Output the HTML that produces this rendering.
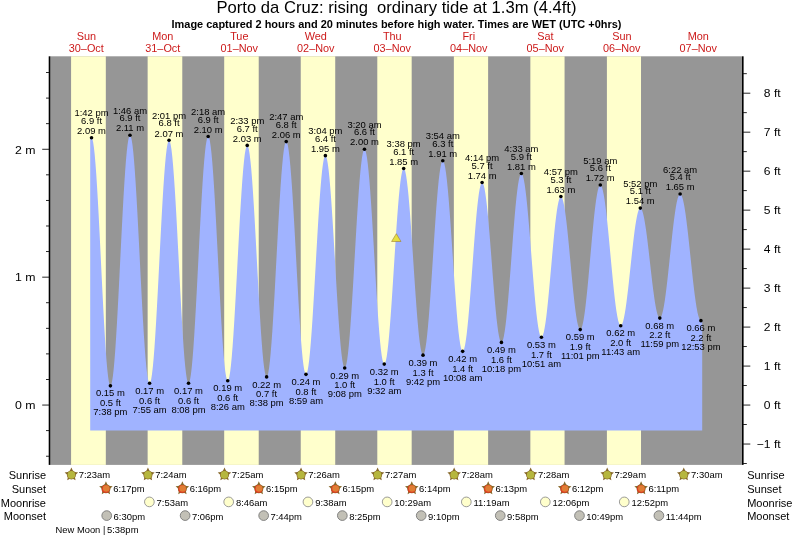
<!DOCTYPE html>
<html><head><meta charset="utf-8"><title>Porto da Cruz tide chart</title>
<style>html,body{margin:0;padding:0;background:#fff}svg{display:block}text{font-family:"Liberation Sans",Arial,Helvetica,sans-serif}</style>
</head><body>
<svg width="793" height="538" viewBox="0 0 793 538">
<rect width="793" height="538" fill="#fff"/>
<rect x="50.4" y="56.3" width="691.6" height="408.59999999999997" fill="#969696"/>
<rect x="71.08" y="56.3" width="34.74" height="408.59999999999997" fill="#ffffcc"/>
<rect x="147.64" y="56.3" width="34.64" height="408.59999999999997" fill="#ffffcc"/>
<rect x="224.19" y="56.3" width="34.53" height="408.59999999999997" fill="#ffffcc"/>
<rect x="300.74" y="56.3" width="34.48" height="408.59999999999997" fill="#ffffcc"/>
<rect x="377.30" y="56.3" width="34.37" height="408.59999999999997" fill="#ffffcc"/>
<rect x="453.85" y="56.3" width="34.27" height="408.59999999999997" fill="#ffffcc"/>
<rect x="530.35" y="56.3" width="34.21" height="408.59999999999997" fill="#ffffcc"/>
<rect x="606.90" y="56.3" width="34.11" height="408.59999999999997" fill="#ffffcc"/>
<path d="M90.2,430.4 L90.2,137.74 L91.52,137.74 L92.31,138.80 L93.09,141.97 L93.88,147.18 L94.67,154.36 L95.46,163.38 L96.25,174.08 L97.03,186.28 L97.82,199.77 L98.61,214.33 L99.40,229.69 L100.19,245.61 L100.97,261.80 L101.76,278.00 L102.55,293.91 L103.34,309.28 L104.13,323.83 L104.92,337.33 L105.70,349.53 L106.49,360.23 L107.28,369.24 L108.07,376.42 L108.86,381.64 L109.64,384.80 L110.43,385.87 L110.43,385.87 L111.25,384.79 L112.06,381.59 L112.87,376.32 L113.69,369.07 L114.50,359.96 L115.32,349.15 L116.13,336.83 L116.95,323.19 L117.76,308.49 L118.58,292.96 L119.39,276.88 L120.21,260.52 L121.02,244.16 L121.84,228.08 L122.65,212.56 L123.46,197.85 L124.28,184.22 L125.09,171.89 L125.91,161.08 L126.72,151.97 L127.54,144.72 L128.35,139.45 L129.17,136.25 L129.98,135.18 L129.98,135.18 L130.80,136.24 L131.61,139.41 L132.43,144.62 L133.25,151.80 L134.07,160.82 L134.88,171.52 L135.70,183.72 L136.52,197.21 L137.33,211.77 L138.15,227.13 L138.97,243.05 L139.78,259.24 L140.60,275.44 L141.42,291.35 L142.23,306.72 L143.05,321.28 L143.87,334.77 L144.68,346.97 L145.50,357.67 L146.32,366.69 L147.13,373.86 L147.95,379.08 L148.77,382.25 L149.58,383.31 L149.58,383.31 L150.39,382.27 L151.20,379.17 L152.01,374.06 L152.83,367.03 L153.64,358.20 L154.45,347.72 L155.26,335.77 L156.07,322.55 L156.88,308.30 L157.69,293.25 L158.50,277.66 L159.31,261.80 L160.12,245.94 L160.93,230.35 L161.74,215.30 L162.55,201.05 L163.36,187.83 L164.17,175.88 L164.98,165.41 L165.79,156.58 L166.60,149.55 L167.41,144.44 L168.22,141.34 L169.03,140.30 L169.03,140.30 L169.84,141.34 L170.65,144.44 L171.47,149.55 L172.28,156.58 L173.09,165.41 L173.90,175.88 L174.71,187.83 L175.53,201.05 L176.34,215.30 L177.15,230.35 L177.96,245.94 L178.78,261.80 L179.59,277.66 L180.40,293.25 L181.21,308.30 L182.03,322.55 L182.84,335.77 L183.65,347.72 L184.46,358.20 L185.28,367.03 L186.09,374.06 L186.90,379.17 L187.71,382.27 L188.53,383.31 L188.53,383.31 L189.34,382.25 L190.16,379.10 L190.98,373.91 L191.80,366.77 L192.62,357.80 L193.44,347.16 L194.26,335.02 L195.08,321.60 L195.90,307.12 L196.72,291.83 L197.53,275.99 L198.35,259.88 L199.17,243.77 L199.99,227.94 L200.81,212.65 L201.63,198.17 L202.45,184.75 L203.27,172.61 L204.09,161.97 L204.91,153.00 L205.72,145.86 L206.54,140.67 L207.36,137.52 L208.18,136.46 L208.18,136.46 L209.00,137.50 L209.81,140.62 L210.62,145.76 L211.44,152.82 L212.25,161.70 L213.07,172.24 L213.88,184.25 L214.70,197.53 L215.51,211.86 L216.33,226.99 L217.14,242.66 L217.96,258.60 L218.77,274.55 L219.59,290.22 L220.40,305.35 L221.21,319.68 L222.03,332.96 L222.84,344.97 L223.66,355.51 L224.47,364.38 L225.29,371.45 L226.10,376.59 L226.92,379.70 L227.73,380.75 L227.73,380.75 L228.54,379.74 L229.36,376.74 L230.17,371.79 L230.98,364.98 L231.79,356.43 L232.61,346.28 L233.42,334.71 L234.23,321.92 L235.04,308.11 L235.85,293.54 L236.67,278.44 L237.48,263.08 L238.29,247.72 L239.10,232.63 L239.92,218.05 L240.73,204.25 L241.54,191.45 L242.35,179.88 L243.17,169.73 L243.98,161.18 L244.79,154.37 L245.60,149.42 L246.42,146.42 L247.23,145.41 L247.23,145.41 L248.04,146.40 L248.84,149.36 L249.65,154.22 L250.46,160.92 L251.27,169.33 L252.08,179.32 L252.88,190.70 L253.69,203.29 L254.50,216.87 L255.31,231.20 L256.12,246.05 L256.92,261.16 L257.73,276.27 L258.54,291.12 L259.35,305.46 L260.16,319.04 L260.96,331.63 L261.77,343.01 L262.58,352.99 L263.39,361.40 L264.19,368.10 L265.00,372.97 L265.81,375.92 L266.62,376.91 L266.62,376.91 L267.44,375.91 L268.25,372.90 L269.07,367.96 L269.89,361.15 L270.70,352.60 L271.52,342.45 L272.34,330.88 L273.15,318.08 L273.97,304.27 L274.79,289.70 L275.60,274.60 L276.42,259.24 L277.24,243.89 L278.05,228.79 L278.87,214.21 L279.69,200.41 L280.50,187.61 L281.32,176.04 L282.14,165.89 L282.95,157.34 L283.77,150.53 L284.59,145.59 L285.41,142.58 L286.22,141.58 L286.22,141.58 L287.05,142.57 L287.87,145.54 L288.69,150.44 L289.52,157.17 L290.34,165.63 L291.16,175.67 L291.99,187.11 L292.81,199.77 L293.63,213.42 L294.46,227.84 L295.28,242.77 L296.10,257.96 L296.93,273.16 L297.75,288.09 L298.57,302.51 L299.40,316.16 L300.22,328.82 L301.04,340.26 L301.87,350.30 L302.69,358.76 L303.51,365.49 L304.34,370.39 L305.16,373.36 L305.98,374.35 L305.98,374.35 L306.79,373.42 L307.60,370.63 L308.41,366.03 L309.22,359.70 L310.02,351.76 L310.83,342.32 L311.64,331.57 L312.45,319.68 L313.26,306.85 L314.06,293.30 L314.87,279.27 L315.68,265.00 L316.49,250.73 L317.30,236.70 L318.10,223.15 L318.91,210.32 L319.72,198.43 L320.53,187.67 L321.34,178.24 L322.14,170.30 L322.95,163.97 L323.76,159.37 L324.57,156.58 L325.38,155.65 L325.38,155.65 L326.18,156.55 L326.99,159.26 L327.79,163.73 L328.60,169.87 L329.40,177.58 L330.21,186.74 L331.02,197.18 L331.82,208.72 L332.63,221.18 L333.43,234.33 L334.24,247.95 L335.04,261.80 L335.85,275.66 L336.66,289.28 L337.46,302.43 L338.27,314.88 L339.07,326.43 L339.88,336.87 L340.68,346.02 L341.49,353.74 L342.30,359.88 L343.10,364.34 L343.91,367.05 L344.71,367.96 L344.71,367.96 L345.54,367.02 L346.36,364.23 L347.18,359.63 L348.01,353.31 L348.83,345.36 L349.65,335.93 L350.48,325.18 L351.30,313.28 L352.12,300.45 L352.95,286.91 L353.77,272.88 L354.59,258.60 L355.42,244.33 L356.24,230.30 L357.06,216.76 L357.89,203.93 L358.71,192.03 L359.53,181.28 L360.36,171.85 L361.18,163.90 L362.00,157.57 L362.83,152.98 L363.65,150.19 L364.48,149.25 L364.48,149.25 L365.30,150.17 L366.12,152.91 L366.95,157.43 L367.77,163.64 L368.59,171.45 L369.42,180.72 L370.24,191.28 L371.06,202.97 L371.89,215.57 L372.71,228.88 L373.53,242.66 L374.36,256.69 L375.18,270.71 L376.00,284.49 L376.83,297.80 L377.65,310.40 L378.47,322.09 L379.30,332.65 L380.12,341.92 L380.94,349.73 L381.77,355.94 L382.59,360.46 L383.41,363.20 L384.24,364.12 L384.24,364.12 L385.05,363.28 L385.86,360.79 L386.67,356.67 L387.48,351.01 L388.29,343.90 L389.10,335.46 L389.91,325.84 L390.72,315.20 L391.53,303.72 L392.34,291.60 L393.15,279.05 L393.96,266.28 L394.77,253.51 L395.58,240.95 L396.39,228.84 L397.20,217.36 L398.01,206.72 L398.82,197.09 L399.63,188.65 L400.44,181.54 L401.25,175.88 L402.06,171.77 L402.87,169.27 L403.68,168.44 L403.68,168.44 L404.49,169.23 L405.29,171.62 L406.10,175.54 L406.90,180.94 L407.71,187.73 L408.52,195.78 L409.32,204.96 L410.13,215.12 L410.93,226.07 L411.74,237.64 L412.54,249.62 L413.35,261.80 L414.16,273.99 L414.96,285.97 L415.77,297.53 L416.57,308.49 L417.38,318.64 L418.18,327.82 L418.99,335.88 L419.80,342.66 L420.60,348.06 L421.41,351.99 L422.21,354.37 L423.02,355.17 L423.02,355.17 L423.84,354.34 L424.67,351.86 L425.49,347.77 L426.31,342.15 L427.14,335.08 L427.96,326.70 L428.78,317.14 L429.61,306.57 L430.43,295.16 L431.25,283.12 L432.08,270.65 L432.90,257.97 L433.72,245.28 L434.55,232.81 L435.37,220.77 L436.19,209.36 L437.02,198.79 L437.84,189.23 L438.66,180.85 L439.49,173.78 L440.31,168.16 L441.13,164.07 L441.96,161.59 L442.78,160.76 L442.78,160.76 L443.61,161.58 L444.44,164.01 L445.26,168.01 L446.09,173.53 L446.92,180.45 L447.75,188.67 L448.58,198.04 L449.40,208.40 L450.23,219.58 L451.06,231.38 L451.89,243.61 L452.72,256.05 L453.54,268.48 L454.37,280.71 L455.20,292.51 L456.03,303.69 L456.85,314.05 L457.68,323.42 L458.51,331.64 L459.34,338.57 L460.17,344.08 L460.99,348.09 L461.82,350.52 L462.65,351.33 L462.65,351.33 L463.46,350.61 L464.27,348.46 L465.08,344.91 L465.89,340.02 L466.70,333.89 L467.51,326.61 L468.32,318.31 L469.13,309.12 L469.94,299.22 L470.75,288.77 L471.56,277.94 L472.37,266.92 L473.18,255.90 L473.99,245.07 L474.80,234.61 L475.61,224.71 L476.42,215.53 L477.23,207.23 L478.04,199.95 L478.85,193.81 L479.66,188.93 L480.47,185.38 L481.28,183.23 L482.09,182.50 L482.09,182.50 L482.90,183.19 L483.71,185.23 L484.51,188.59 L485.32,193.21 L486.12,199.02 L486.93,205.92 L487.73,213.78 L488.54,222.47 L489.35,231.85 L490.15,241.75 L490.96,252.01 L491.76,262.44 L492.57,272.88 L493.37,283.13 L494.18,293.03 L494.99,302.41 L495.79,311.10 L496.60,318.97 L497.40,325.86 L498.21,331.67 L499.01,336.29 L499.82,339.66 L500.63,341.70 L501.43,342.38 L501.43,342.38 L502.26,341.66 L503.09,339.50 L503.92,335.95 L504.75,331.07 L505.58,324.94 L506.41,317.65 L507.24,309.35 L508.07,300.17 L508.90,290.27 L509.73,279.81 L510.56,268.98 L511.39,257.97 L512.22,246.95 L513.05,236.12 L513.88,225.66 L514.71,215.76 L515.54,206.58 L516.37,198.28 L517.20,190.99 L518.03,184.86 L518.86,179.98 L519.69,176.43 L520.52,174.27 L521.35,173.55 L521.35,173.55 L522.19,174.25 L523.03,176.34 L523.86,179.78 L524.70,184.52 L525.54,190.47 L526.37,197.53 L527.21,205.58 L528.05,214.48 L528.88,224.08 L529.72,234.22 L530.56,244.72 L531.39,255.41 L532.23,266.09 L533.07,276.59 L533.90,286.73 L534.74,296.33 L535.58,305.24 L536.41,313.29 L537.25,320.35 L538.09,326.30 L538.92,331.03 L539.76,334.47 L540.60,336.56 L541.43,337.26 L541.43,337.26 L542.24,336.66 L543.05,334.87 L543.86,331.91 L544.67,327.84 L545.49,322.73 L546.30,316.66 L547.11,309.74 L547.92,302.09 L548.73,293.84 L549.54,285.12 L550.35,276.10 L551.16,266.92 L551.97,257.74 L552.78,248.71 L553.59,240.00 L554.40,231.75 L555.21,224.09 L556.02,217.18 L556.83,211.11 L557.64,206.00 L558.45,201.93 L559.26,198.97 L560.07,197.17 L560.88,196.57 L560.88,196.57 L561.68,197.14 L562.49,198.84 L563.30,201.64 L564.10,205.48 L564.91,210.32 L565.71,216.05 L566.52,222.59 L567.32,229.83 L568.13,237.63 L568.94,245.87 L569.74,254.40 L570.55,263.08 L571.35,271.76 L572.16,280.29 L572.96,288.53 L573.77,296.33 L574.58,303.57 L575.38,310.11 L576.19,315.85 L576.99,320.68 L577.80,324.53 L578.60,327.32 L579.41,329.02 L580.22,329.59 L580.22,329.59 L581.05,328.97 L581.89,327.13 L582.73,324.09 L583.56,319.91 L584.40,314.66 L585.24,308.42 L586.07,301.32 L586.91,293.46 L587.75,284.98 L588.58,276.03 L589.42,266.76 L590.26,257.33 L591.09,247.89 L591.93,238.62 L592.77,229.67 L593.60,221.19 L594.44,213.33 L595.28,206.23 L596.11,200.00 L596.95,194.74 L597.79,190.56 L598.62,187.52 L599.46,185.68 L600.30,185.06 L600.30,185.06 L601.15,185.66 L602.00,187.46 L602.85,190.42 L603.70,194.49 L604.55,199.60 L605.40,205.67 L606.25,212.58 L607.10,220.23 L607.95,228.49 L608.80,237.20 L609.65,246.23 L610.50,255.41 L611.35,264.59 L612.20,273.61 L613.05,282.33 L613.90,290.58 L614.75,298.23 L615.60,305.15 L616.45,311.22 L617.30,316.33 L618.15,320.40 L619.00,323.36 L619.85,325.15 L620.70,325.75 L620.70,325.75 L621.51,325.25 L622.33,323.75 L623.15,321.27 L623.96,317.87 L624.78,313.59 L625.60,308.52 L626.41,302.73 L627.23,296.34 L628.05,289.43 L628.86,282.15 L629.68,274.60 L630.50,266.92 L631.32,259.24 L632.13,251.69 L632.95,244.40 L633.77,237.50 L634.58,231.10 L635.40,225.32 L636.22,220.24 L637.03,215.97 L637.85,212.56 L638.67,210.09 L639.48,208.59 L640.30,208.08 L640.30,208.08 L641.11,208.55 L641.92,209.96 L642.74,212.27 L643.55,215.45 L644.36,219.45 L645.17,224.19 L645.99,229.60 L646.80,235.58 L647.61,242.03 L648.42,248.85 L649.24,255.90 L650.05,263.08 L650.86,270.26 L651.67,277.32 L652.49,284.13 L653.30,290.58 L654.11,296.56 L654.92,301.97 L655.74,306.71 L656.55,310.71 L657.36,313.89 L658.17,316.20 L658.98,317.61 L659.80,318.08 L659.80,318.08 L660.64,317.55 L661.49,315.96 L662.34,313.36 L663.19,309.77 L664.04,305.26 L664.88,299.91 L665.73,293.81 L666.58,287.06 L667.43,279.78 L668.27,272.10 L669.12,264.14 L669.97,256.05 L670.82,247.95 L671.67,239.99 L672.51,232.31 L673.36,225.03 L674.21,218.28 L675.06,212.18 L675.90,206.83 L676.75,202.33 L677.60,198.74 L678.45,196.13 L679.30,194.55 L680.14,194.01 L680.14,194.02 L681.01,194.56 L681.87,196.17 L682.74,198.83 L683.61,202.50 L684.47,207.10 L685.34,212.56 L686.20,218.78 L687.07,225.67 L687.93,233.10 L688.80,240.94 L689.66,249.06 L690.53,257.33 L691.40,265.59 L692.26,273.71 L693.13,281.55 L693.99,288.98 L694.86,295.87 L695.72,302.09 L696.59,307.55 L697.45,312.15 L698.32,315.82 L699.18,318.48 L700.05,320.09 L700.92,320.64 L702.2,320.64 L702.2,430.4 Z" fill="#a0b3ff"/>
<rect x="48.7" y="56.3" width="1.7" height="408.59999999999997" fill="#000"/>
<rect x="742" y="56.3" width="1.6" height="408.59999999999997" fill="#000"/>
<rect x="46.0" y="455.76" width="3.00" height="0.9" fill="#111"/>
<rect x="46.0" y="430.18" width="3.00" height="0.9" fill="#111"/>
<rect x="42.2" y="404.60" width="6.80" height="0.9" fill="#111"/>
<text transform="translate(35.40,409.35) scale(1.12,1)" font-size="11" text-anchor="end" fill="#000">0 m</text>
<rect x="46.0" y="379.02" width="3.00" height="0.9" fill="#111"/>
<rect x="46.0" y="353.44" width="3.00" height="0.9" fill="#111"/>
<rect x="46.0" y="327.86" width="3.00" height="0.9" fill="#111"/>
<rect x="46.0" y="302.28" width="3.00" height="0.9" fill="#111"/>
<rect x="42.2" y="276.70" width="6.80" height="0.9" fill="#111"/>
<text transform="translate(35.40,281.45) scale(1.12,1)" font-size="11" text-anchor="end" fill="#000">1 m</text>
<rect x="46.0" y="251.12" width="3.00" height="0.9" fill="#111"/>
<rect x="46.0" y="225.54" width="3.00" height="0.9" fill="#111"/>
<rect x="46.0" y="199.96" width="3.00" height="0.9" fill="#111"/>
<rect x="46.0" y="174.38" width="3.00" height="0.9" fill="#111"/>
<rect x="42.2" y="148.80" width="6.80" height="0.9" fill="#111"/>
<text transform="translate(35.40,153.55) scale(1.12,1)" font-size="11" text-anchor="end" fill="#000">2 m</text>
<rect x="46.0" y="123.22" width="3.00" height="0.9" fill="#111"/>
<rect x="46.0" y="97.64" width="3.00" height="0.9" fill="#111"/>
<rect x="46.0" y="72.06" width="3.00" height="0.9" fill="#111"/>
<rect x="743" y="463.08" width="3.80" height="0.9" fill="#111"/>
<rect x="743" y="443.58" width="7.30" height="0.9" fill="#111"/>
<text transform="translate(780.60,448.33) scale(1.1,1)" font-size="11" text-anchor="end" fill="#000">−1 ft</text>
<rect x="743" y="424.09" width="3.80" height="0.9" fill="#111"/>
<rect x="743" y="404.60" width="7.30" height="0.9" fill="#111"/>
<text transform="translate(780.60,409.35) scale(1.1,1)" font-size="11" text-anchor="end" fill="#000">0 ft</text>
<rect x="743" y="385.11" width="3.80" height="0.9" fill="#111"/>
<rect x="743" y="365.62" width="7.30" height="0.9" fill="#111"/>
<text transform="translate(780.60,370.37) scale(1.1,1)" font-size="11" text-anchor="end" fill="#000">1 ft</text>
<rect x="743" y="346.12" width="3.80" height="0.9" fill="#111"/>
<rect x="743" y="326.63" width="7.30" height="0.9" fill="#111"/>
<text transform="translate(780.60,331.38) scale(1.1,1)" font-size="11" text-anchor="end" fill="#000">2 ft</text>
<rect x="743" y="307.14" width="3.80" height="0.9" fill="#111"/>
<rect x="743" y="287.65" width="7.30" height="0.9" fill="#111"/>
<text transform="translate(780.60,292.40) scale(1.1,1)" font-size="11" text-anchor="end" fill="#000">3 ft</text>
<rect x="743" y="268.16" width="3.80" height="0.9" fill="#111"/>
<rect x="743" y="248.66" width="7.30" height="0.9" fill="#111"/>
<text transform="translate(780.60,253.41) scale(1.1,1)" font-size="11" text-anchor="end" fill="#000">4 ft</text>
<rect x="743" y="229.17" width="3.80" height="0.9" fill="#111"/>
<rect x="743" y="209.68" width="7.30" height="0.9" fill="#111"/>
<text transform="translate(780.60,214.43) scale(1.1,1)" font-size="11" text-anchor="end" fill="#000">5 ft</text>
<rect x="743" y="190.19" width="3.80" height="0.9" fill="#111"/>
<rect x="743" y="170.70" width="7.30" height="0.9" fill="#111"/>
<text transform="translate(780.60,175.45) scale(1.1,1)" font-size="11" text-anchor="end" fill="#000">6 ft</text>
<rect x="743" y="151.20" width="3.80" height="0.9" fill="#111"/>
<rect x="743" y="131.71" width="7.30" height="0.9" fill="#111"/>
<text transform="translate(780.60,136.46) scale(1.1,1)" font-size="11" text-anchor="end" fill="#000">7 ft</text>
<rect x="743" y="112.22" width="3.80" height="0.9" fill="#111"/>
<rect x="743" y="92.73" width="7.30" height="0.9" fill="#111"/>
<text transform="translate(780.60,97.48) scale(1.1,1)" font-size="11" text-anchor="end" fill="#000">8 ft</text>
<rect x="743" y="73.24" width="3.80" height="0.9" fill="#111"/>
<circle cx="91.52" cy="137.74" r="1.8" fill="#000"/>
<text transform="translate(91.52,116.44) scale(1.05,1)" font-size="9" text-anchor="middle" fill="#000">1:42 pm</text>
<text transform="translate(91.52,123.84) scale(1.05,1)" font-size="9" text-anchor="middle" fill="#000">6.9 ft</text>
<text transform="translate(91.52,133.94) scale(1.05,1)" font-size="9" text-anchor="middle" fill="#000">2.09 m</text>
<circle cx="110.43" cy="385.87" r="1.8" fill="#000"/>
<text transform="translate(110.43,396.47) scale(1.05,1)" font-size="9" text-anchor="middle" fill="#000">0.15 m</text>
<text transform="translate(110.43,406.26) scale(1.05,1)" font-size="9" text-anchor="middle" fill="#000">0.5 ft</text>
<text transform="translate(110.43,415.26) scale(1.05,1)" font-size="9" text-anchor="middle" fill="#000">7:38 pm</text>
<circle cx="129.98" cy="135.18" r="1.8" fill="#000"/>
<text transform="translate(129.98,113.88) scale(1.05,1)" font-size="9" text-anchor="middle" fill="#000">1:46 am</text>
<text transform="translate(129.98,121.28) scale(1.05,1)" font-size="9" text-anchor="middle" fill="#000">6.9 ft</text>
<text transform="translate(129.98,131.38) scale(1.05,1)" font-size="9" text-anchor="middle" fill="#000">2.11 m</text>
<circle cx="149.58" cy="383.31" r="1.8" fill="#000"/>
<text transform="translate(149.58,393.91) scale(1.05,1)" font-size="9" text-anchor="middle" fill="#000">0.17 m</text>
<text transform="translate(149.58,403.71) scale(1.05,1)" font-size="9" text-anchor="middle" fill="#000">0.6 ft</text>
<text transform="translate(149.58,412.71) scale(1.05,1)" font-size="9" text-anchor="middle" fill="#000">7:55 am</text>
<circle cx="169.03" cy="140.30" r="1.8" fill="#000"/>
<text transform="translate(169.03,119.00) scale(1.05,1)" font-size="9" text-anchor="middle" fill="#000">2:01 pm</text>
<text transform="translate(169.03,126.40) scale(1.05,1)" font-size="9" text-anchor="middle" fill="#000">6.8 ft</text>
<text transform="translate(169.03,136.50) scale(1.05,1)" font-size="9" text-anchor="middle" fill="#000">2.07 m</text>
<circle cx="188.53" cy="383.31" r="1.8" fill="#000"/>
<text transform="translate(188.53,393.91) scale(1.05,1)" font-size="9" text-anchor="middle" fill="#000">0.17 m</text>
<text transform="translate(188.53,403.71) scale(1.05,1)" font-size="9" text-anchor="middle" fill="#000">0.6 ft</text>
<text transform="translate(188.53,412.71) scale(1.05,1)" font-size="9" text-anchor="middle" fill="#000">8:08 pm</text>
<circle cx="208.18" cy="136.46" r="1.8" fill="#000"/>
<text transform="translate(208.18,115.16) scale(1.05,1)" font-size="9" text-anchor="middle" fill="#000">2:18 am</text>
<text transform="translate(208.18,122.56) scale(1.05,1)" font-size="9" text-anchor="middle" fill="#000">6.9 ft</text>
<text transform="translate(208.18,132.66) scale(1.05,1)" font-size="9" text-anchor="middle" fill="#000">2.10 m</text>
<circle cx="227.73" cy="380.75" r="1.8" fill="#000"/>
<text transform="translate(227.73,391.35) scale(1.05,1)" font-size="9" text-anchor="middle" fill="#000">0.19 m</text>
<text transform="translate(227.73,401.15) scale(1.05,1)" font-size="9" text-anchor="middle" fill="#000">0.6 ft</text>
<text transform="translate(227.73,410.15) scale(1.05,1)" font-size="9" text-anchor="middle" fill="#000">8:26 am</text>
<circle cx="247.23" cy="145.41" r="1.8" fill="#000"/>
<text transform="translate(247.23,124.11) scale(1.05,1)" font-size="9" text-anchor="middle" fill="#000">2:33 pm</text>
<text transform="translate(247.23,131.51) scale(1.05,1)" font-size="9" text-anchor="middle" fill="#000">6.7 ft</text>
<text transform="translate(247.23,141.61) scale(1.05,1)" font-size="9" text-anchor="middle" fill="#000">2.03 m</text>
<circle cx="266.62" cy="376.91" r="1.8" fill="#000"/>
<text transform="translate(266.62,387.51) scale(1.05,1)" font-size="9" text-anchor="middle" fill="#000">0.22 m</text>
<text transform="translate(266.62,397.31) scale(1.05,1)" font-size="9" text-anchor="middle" fill="#000">0.7 ft</text>
<text transform="translate(266.62,406.31) scale(1.05,1)" font-size="9" text-anchor="middle" fill="#000">8:38 pm</text>
<circle cx="286.22" cy="141.58" r="1.8" fill="#000"/>
<text transform="translate(286.22,120.28) scale(1.05,1)" font-size="9" text-anchor="middle" fill="#000">2:47 am</text>
<text transform="translate(286.22,127.68) scale(1.05,1)" font-size="9" text-anchor="middle" fill="#000">6.8 ft</text>
<text transform="translate(286.22,137.78) scale(1.05,1)" font-size="9" text-anchor="middle" fill="#000">2.06 m</text>
<circle cx="305.98" cy="374.35" r="1.8" fill="#000"/>
<text transform="translate(305.98,384.95) scale(1.05,1)" font-size="9" text-anchor="middle" fill="#000">0.24 m</text>
<text transform="translate(305.98,394.75) scale(1.05,1)" font-size="9" text-anchor="middle" fill="#000">0.8 ft</text>
<text transform="translate(305.98,403.75) scale(1.05,1)" font-size="9" text-anchor="middle" fill="#000">8:59 am</text>
<circle cx="325.38" cy="155.65" r="1.8" fill="#000"/>
<text transform="translate(325.38,134.34) scale(1.05,1)" font-size="9" text-anchor="middle" fill="#000">3:04 pm</text>
<text transform="translate(325.38,141.75) scale(1.05,1)" font-size="9" text-anchor="middle" fill="#000">6.4 ft</text>
<text transform="translate(325.38,151.84) scale(1.05,1)" font-size="9" text-anchor="middle" fill="#000">1.95 m</text>
<circle cx="344.71" cy="367.96" r="1.8" fill="#000"/>
<text transform="translate(344.71,378.56) scale(1.05,1)" font-size="9" text-anchor="middle" fill="#000">0.29 m</text>
<text transform="translate(344.71,388.36) scale(1.05,1)" font-size="9" text-anchor="middle" fill="#000">1.0 ft</text>
<text transform="translate(344.71,397.36) scale(1.05,1)" font-size="9" text-anchor="middle" fill="#000">9:08 pm</text>
<circle cx="364.48" cy="149.25" r="1.8" fill="#000"/>
<text transform="translate(364.48,127.95) scale(1.05,1)" font-size="9" text-anchor="middle" fill="#000">3:20 am</text>
<text transform="translate(364.48,135.35) scale(1.05,1)" font-size="9" text-anchor="middle" fill="#000">6.6 ft</text>
<text transform="translate(364.48,145.45) scale(1.05,1)" font-size="9" text-anchor="middle" fill="#000">2.00 m</text>
<circle cx="384.24" cy="364.12" r="1.8" fill="#000"/>
<text transform="translate(384.24,374.72) scale(1.05,1)" font-size="9" text-anchor="middle" fill="#000">0.32 m</text>
<text transform="translate(384.24,384.52) scale(1.05,1)" font-size="9" text-anchor="middle" fill="#000">1.0 ft</text>
<text transform="translate(384.24,393.52) scale(1.05,1)" font-size="9" text-anchor="middle" fill="#000">9:32 am</text>
<circle cx="403.68" cy="168.44" r="1.8" fill="#000"/>
<text transform="translate(403.68,147.13) scale(1.05,1)" font-size="9" text-anchor="middle" fill="#000">3:38 pm</text>
<text transform="translate(403.68,154.53) scale(1.05,1)" font-size="9" text-anchor="middle" fill="#000">6.1 ft</text>
<text transform="translate(403.68,164.63) scale(1.05,1)" font-size="9" text-anchor="middle" fill="#000">1.85 m</text>
<circle cx="423.02" cy="355.17" r="1.8" fill="#000"/>
<text transform="translate(423.02,365.77) scale(1.05,1)" font-size="9" text-anchor="middle" fill="#000">0.39 m</text>
<text transform="translate(423.02,375.57) scale(1.05,1)" font-size="9" text-anchor="middle" fill="#000">1.3 ft</text>
<text transform="translate(423.02,384.57) scale(1.05,1)" font-size="9" text-anchor="middle" fill="#000">9:42 pm</text>
<circle cx="442.78" cy="160.76" r="1.8" fill="#000"/>
<text transform="translate(442.78,139.46) scale(1.05,1)" font-size="9" text-anchor="middle" fill="#000">3:54 am</text>
<text transform="translate(442.78,146.86) scale(1.05,1)" font-size="9" text-anchor="middle" fill="#000">6.3 ft</text>
<text transform="translate(442.78,156.96) scale(1.05,1)" font-size="9" text-anchor="middle" fill="#000">1.91 m</text>
<circle cx="462.65" cy="351.33" r="1.8" fill="#000"/>
<text transform="translate(462.65,361.93) scale(1.05,1)" font-size="9" text-anchor="middle" fill="#000">0.42 m</text>
<text transform="translate(462.65,371.73) scale(1.05,1)" font-size="9" text-anchor="middle" fill="#000">1.4 ft</text>
<text transform="translate(462.65,380.73) scale(1.05,1)" font-size="9" text-anchor="middle" fill="#000">10:08 am</text>
<circle cx="482.09" cy="182.50" r="1.8" fill="#000"/>
<text transform="translate(482.09,161.20) scale(1.05,1)" font-size="9" text-anchor="middle" fill="#000">4:14 pm</text>
<text transform="translate(482.09,168.60) scale(1.05,1)" font-size="9" text-anchor="middle" fill="#000">5.7 ft</text>
<text transform="translate(482.09,178.70) scale(1.05,1)" font-size="9" text-anchor="middle" fill="#000">1.74 m</text>
<circle cx="501.43" cy="342.38" r="1.8" fill="#000"/>
<text transform="translate(501.43,352.98) scale(1.05,1)" font-size="9" text-anchor="middle" fill="#000">0.49 m</text>
<text transform="translate(501.43,362.78) scale(1.05,1)" font-size="9" text-anchor="middle" fill="#000">1.6 ft</text>
<text transform="translate(501.43,371.78) scale(1.05,1)" font-size="9" text-anchor="middle" fill="#000">10:18 pm</text>
<circle cx="521.35" cy="173.55" r="1.8" fill="#000"/>
<text transform="translate(521.35,152.25) scale(1.05,1)" font-size="9" text-anchor="middle" fill="#000">4:33 am</text>
<text transform="translate(521.35,159.65) scale(1.05,1)" font-size="9" text-anchor="middle" fill="#000">5.9 ft</text>
<text transform="translate(521.35,169.75) scale(1.05,1)" font-size="9" text-anchor="middle" fill="#000">1.81 m</text>
<circle cx="541.43" cy="337.26" r="1.8" fill="#000"/>
<text transform="translate(541.43,347.86) scale(1.05,1)" font-size="9" text-anchor="middle" fill="#000">0.53 m</text>
<text transform="translate(541.43,357.66) scale(1.05,1)" font-size="9" text-anchor="middle" fill="#000">1.7 ft</text>
<text transform="translate(541.43,366.66) scale(1.05,1)" font-size="9" text-anchor="middle" fill="#000">10:51 am</text>
<circle cx="560.88" cy="196.57" r="1.8" fill="#000"/>
<text transform="translate(560.88,175.27) scale(1.05,1)" font-size="9" text-anchor="middle" fill="#000">4:57 pm</text>
<text transform="translate(560.88,182.67) scale(1.05,1)" font-size="9" text-anchor="middle" fill="#000">5.3 ft</text>
<text transform="translate(560.88,192.77) scale(1.05,1)" font-size="9" text-anchor="middle" fill="#000">1.63 m</text>
<circle cx="580.22" cy="329.59" r="1.8" fill="#000"/>
<text transform="translate(580.22,340.19) scale(1.05,1)" font-size="9" text-anchor="middle" fill="#000">0.59 m</text>
<text transform="translate(580.22,349.99) scale(1.05,1)" font-size="9" text-anchor="middle" fill="#000">1.9 ft</text>
<text transform="translate(580.22,358.99) scale(1.05,1)" font-size="9" text-anchor="middle" fill="#000">11:01 pm</text>
<circle cx="600.30" cy="185.06" r="1.8" fill="#000"/>
<text transform="translate(600.30,163.76) scale(1.05,1)" font-size="9" text-anchor="middle" fill="#000">5:19 am</text>
<text transform="translate(600.30,171.16) scale(1.05,1)" font-size="9" text-anchor="middle" fill="#000">5.6 ft</text>
<text transform="translate(600.30,181.26) scale(1.05,1)" font-size="9" text-anchor="middle" fill="#000">1.72 m</text>
<circle cx="620.70" cy="325.75" r="1.8" fill="#000"/>
<text transform="translate(620.70,336.35) scale(1.05,1)" font-size="9" text-anchor="middle" fill="#000">0.62 m</text>
<text transform="translate(620.70,346.15) scale(1.05,1)" font-size="9" text-anchor="middle" fill="#000">2.0 ft</text>
<text transform="translate(620.70,355.15) scale(1.05,1)" font-size="9" text-anchor="middle" fill="#000">11:43 am</text>
<circle cx="640.30" cy="208.08" r="1.8" fill="#000"/>
<text transform="translate(640.30,186.78) scale(1.05,1)" font-size="9" text-anchor="middle" fill="#000">5:52 pm</text>
<text transform="translate(640.30,194.18) scale(1.05,1)" font-size="9" text-anchor="middle" fill="#000">5.1 ft</text>
<text transform="translate(640.30,204.28) scale(1.05,1)" font-size="9" text-anchor="middle" fill="#000">1.54 m</text>
<circle cx="659.80" cy="318.08" r="1.8" fill="#000"/>
<text transform="translate(659.80,328.68) scale(1.05,1)" font-size="9" text-anchor="middle" fill="#000">0.68 m</text>
<text transform="translate(659.80,338.48) scale(1.05,1)" font-size="9" text-anchor="middle" fill="#000">2.2 ft</text>
<text transform="translate(659.80,347.48) scale(1.05,1)" font-size="9" text-anchor="middle" fill="#000">11:59 pm</text>
<circle cx="680.14" cy="194.02" r="1.8" fill="#000"/>
<text transform="translate(680.14,172.72) scale(1.05,1)" font-size="9" text-anchor="middle" fill="#000">6:22 am</text>
<text transform="translate(680.14,180.12) scale(1.05,1)" font-size="9" text-anchor="middle" fill="#000">5.4 ft</text>
<text transform="translate(680.14,190.22) scale(1.05,1)" font-size="9" text-anchor="middle" fill="#000">1.65 m</text>
<circle cx="700.92" cy="320.64" r="1.8" fill="#000"/>
<text transform="translate(700.92,331.24) scale(1.05,1)" font-size="9" text-anchor="middle" fill="#000">0.66 m</text>
<text transform="translate(700.92,341.04) scale(1.05,1)" font-size="9" text-anchor="middle" fill="#000">2.2 ft</text>
<text transform="translate(700.92,350.04) scale(1.05,1)" font-size="9" text-anchor="middle" fill="#000">12:53 pm</text>
<path d="M396.3,233.7 L401.0,241.5 L391.6,241.5 Z" fill="#e6e040" stroke="#a08030" stroke-width="0.6"/>
<text x="396.5" y="13" font-size="16.2" text-anchor="middle" textLength="360" lengthAdjust="spacingAndGlyphs" xml:space="preserve" style="white-space:pre">Porto da Cruz: rising  ordinary tide at 1.3m (4.4ft)</text>
<text x="396.5" y="27.9" font-size="10" font-weight="bold" text-anchor="middle" textLength="450" lengthAdjust="spacingAndGlyphs">Image captured 2 hours and 20 minutes before high water. Times are WET (UTC +0hrs)</text>
<text transform="translate(86.30,40.30) scale(1.09,1)" font-size="10" text-anchor="middle" fill="#cc1a1a">Sun</text>
<text transform="translate(86.30,52.30) scale(1.09,1)" font-size="10" text-anchor="middle" fill="#cc1a1a">30–Oct</text>
<text transform="translate(162.80,40.30) scale(1.09,1)" font-size="10" text-anchor="middle" fill="#cc1a1a">Mon</text>
<text transform="translate(162.80,52.30) scale(1.09,1)" font-size="10" text-anchor="middle" fill="#cc1a1a">31–Oct</text>
<text transform="translate(239.30,40.30) scale(1.09,1)" font-size="10" text-anchor="middle" fill="#cc1a1a">Tue</text>
<text transform="translate(239.30,52.30) scale(1.09,1)" font-size="10" text-anchor="middle" fill="#cc1a1a">01–Nov</text>
<text transform="translate(315.80,40.30) scale(1.09,1)" font-size="10" text-anchor="middle" fill="#cc1a1a">Wed</text>
<text transform="translate(315.80,52.30) scale(1.09,1)" font-size="10" text-anchor="middle" fill="#cc1a1a">02–Nov</text>
<text transform="translate(392.30,40.30) scale(1.09,1)" font-size="10" text-anchor="middle" fill="#cc1a1a">Thu</text>
<text transform="translate(392.30,52.30) scale(1.09,1)" font-size="10" text-anchor="middle" fill="#cc1a1a">03–Nov</text>
<text transform="translate(468.80,40.30) scale(1.09,1)" font-size="10" text-anchor="middle" fill="#cc1a1a">Fri</text>
<text transform="translate(468.80,52.30) scale(1.09,1)" font-size="10" text-anchor="middle" fill="#cc1a1a">04–Nov</text>
<text transform="translate(545.30,40.30) scale(1.09,1)" font-size="10" text-anchor="middle" fill="#cc1a1a">Sat</text>
<text transform="translate(545.30,52.30) scale(1.09,1)" font-size="10" text-anchor="middle" fill="#cc1a1a">05–Nov</text>
<text transform="translate(621.80,40.30) scale(1.09,1)" font-size="10" text-anchor="middle" fill="#cc1a1a">Sun</text>
<text transform="translate(621.80,52.30) scale(1.09,1)" font-size="10" text-anchor="middle" fill="#cc1a1a">06–Nov</text>
<text transform="translate(698.30,40.30) scale(1.09,1)" font-size="10" text-anchor="middle" fill="#cc1a1a">Mon</text>
<text transform="translate(698.30,52.30) scale(1.09,1)" font-size="10" text-anchor="middle" fill="#cc1a1a">07–Nov</text>
<text transform="translate(46.00,478.50) scale(1.0,1)" font-size="11" text-anchor="end" fill="#000">Sunrise</text>
<text transform="translate(747.20,478.50) scale(1.0,1)" font-size="11" text-anchor="start" fill="#000">Sunrise</text>
<text transform="translate(46.00,492.90) scale(1.0,1)" font-size="11" text-anchor="end" fill="#000">Sunset</text>
<text transform="translate(747.20,492.90) scale(1.0,1)" font-size="11" text-anchor="start" fill="#000">Sunset</text>
<text transform="translate(46.00,506.60) scale(1.0,1)" font-size="11" text-anchor="end" fill="#000">Moonrise</text>
<text transform="translate(747.20,506.60) scale(1.0,1)" font-size="11" text-anchor="start" fill="#000">Moonrise</text>
<text transform="translate(46.00,520.10) scale(1.0,1)" font-size="11" text-anchor="end" fill="#000">Moonset</text>
<text transform="translate(747.20,520.10) scale(1.0,1)" font-size="11" text-anchor="start" fill="#000">Moonset</text>
<polygon points="71.38,467.50 73.38,471.85 78.14,472.41 74.62,475.65 75.56,480.34 71.38,478.00 67.21,480.34 68.15,475.65 64.63,472.41 69.39,471.85" fill="#87682a"/>
<circle cx="71.38" cy="474.90" r="4.5" fill="#87682a"/>
<circle cx="71.38" cy="474.90" r="3.8" fill="#b6b63e"/>
<text transform="translate(78.68,477.70) scale(1.05,1)" font-size="9" text-anchor="start" fill="#000">7:23am</text>
<polygon points="147.94,467.50 149.94,471.85 154.69,472.41 151.17,475.65 152.11,480.34 147.94,478.00 143.76,480.34 144.70,475.65 141.18,472.41 145.94,471.85" fill="#87682a"/>
<circle cx="147.94" cy="474.90" r="4.5" fill="#87682a"/>
<circle cx="147.94" cy="474.90" r="3.8" fill="#b6b63e"/>
<text transform="translate(155.24,477.70) scale(1.05,1)" font-size="9" text-anchor="start" fill="#000">7:24am</text>
<polygon points="224.49,467.50 226.49,471.85 231.24,472.41 227.72,475.65 228.66,480.34 224.49,478.00 220.32,480.34 221.26,475.65 217.74,472.41 222.49,471.85" fill="#87682a"/>
<circle cx="224.49" cy="474.90" r="4.5" fill="#87682a"/>
<circle cx="224.49" cy="474.90" r="3.8" fill="#b6b63e"/>
<text transform="translate(231.79,477.70) scale(1.05,1)" font-size="9" text-anchor="start" fill="#000">7:25am</text>
<polygon points="301.04,467.50 303.04,471.85 307.80,472.41 304.28,475.65 305.22,480.34 301.04,478.00 296.87,480.34 297.81,475.65 294.29,472.41 299.05,471.85" fill="#87682a"/>
<circle cx="301.04" cy="474.90" r="4.5" fill="#87682a"/>
<circle cx="301.04" cy="474.90" r="3.8" fill="#b6b63e"/>
<text transform="translate(308.34,477.70) scale(1.05,1)" font-size="9" text-anchor="start" fill="#000">7:26am</text>
<polygon points="377.60,467.50 379.60,471.85 384.35,472.41 380.83,475.65 381.77,480.34 377.60,478.00 373.42,480.34 374.36,475.65 370.84,472.41 375.60,471.85" fill="#87682a"/>
<circle cx="377.60" cy="474.90" r="4.5" fill="#87682a"/>
<circle cx="377.60" cy="474.90" r="3.8" fill="#b6b63e"/>
<text transform="translate(384.90,477.70) scale(1.05,1)" font-size="9" text-anchor="start" fill="#000">7:27am</text>
<polygon points="454.15,467.50 456.15,471.85 460.90,472.41 457.38,475.65 458.32,480.34 454.15,478.00 449.98,480.34 450.92,475.65 447.40,472.41 452.15,471.85" fill="#87682a"/>
<circle cx="454.15" cy="474.90" r="4.5" fill="#87682a"/>
<circle cx="454.15" cy="474.90" r="3.8" fill="#b6b63e"/>
<text transform="translate(461.45,477.70) scale(1.05,1)" font-size="9" text-anchor="start" fill="#000">7:28am</text>
<polygon points="530.65,467.50 532.65,471.85 537.40,472.41 533.88,475.65 534.82,480.34 530.65,478.00 526.48,480.34 527.42,475.65 523.90,472.41 528.65,471.85" fill="#87682a"/>
<circle cx="530.65" cy="474.90" r="4.5" fill="#87682a"/>
<circle cx="530.65" cy="474.90" r="3.8" fill="#b6b63e"/>
<text transform="translate(537.95,477.70) scale(1.05,1)" font-size="9" text-anchor="start" fill="#000">7:28am</text>
<polygon points="607.20,467.50 609.20,471.85 613.96,472.41 610.44,475.65 611.38,480.34 607.20,478.00 603.03,480.34 603.97,475.65 600.45,472.41 605.20,471.85" fill="#87682a"/>
<circle cx="607.20" cy="474.90" r="4.5" fill="#87682a"/>
<circle cx="607.20" cy="474.90" r="3.8" fill="#b6b63e"/>
<text transform="translate(614.50,477.70) scale(1.05,1)" font-size="9" text-anchor="start" fill="#000">7:29am</text>
<polygon points="683.76,467.50 685.75,471.85 690.51,472.41 686.99,475.65 687.93,480.34 683.76,478.00 679.58,480.34 680.52,475.65 677.00,472.41 681.76,471.85" fill="#87682a"/>
<circle cx="683.76" cy="474.90" r="4.5" fill="#87682a"/>
<circle cx="683.76" cy="474.90" r="3.8" fill="#b6b63e"/>
<text transform="translate(691.06,477.70) scale(1.05,1)" font-size="9" text-anchor="start" fill="#000">7:30am</text>
<polygon points="105.93,481.30 107.93,485.65 112.68,486.21 109.16,489.45 110.10,494.14 105.93,491.80 101.75,494.14 102.69,489.45 99.18,486.21 103.93,485.65" fill="#87682a"/>
<circle cx="105.93" cy="488.70" r="4.5" fill="#87682a"/>
<circle cx="105.73" cy="488.90" r="3.9" fill="#e23a22"/>
<circle cx="106.23" cy="488.50" r="3.3" fill="#e07e34"/>
<text transform="translate(113.23,492.40) scale(1.05,1)" font-size="9" text-anchor="start" fill="#000">6:17pm</text>
<polygon points="182.37,481.30 184.37,485.65 189.13,486.21 185.61,489.45 186.55,494.14 182.37,491.80 178.20,494.14 179.14,489.45 175.62,486.21 180.38,485.65" fill="#87682a"/>
<circle cx="182.37" cy="488.70" r="4.5" fill="#87682a"/>
<circle cx="182.17" cy="488.90" r="3.9" fill="#e23a22"/>
<circle cx="182.67" cy="488.50" r="3.3" fill="#e07e34"/>
<text transform="translate(189.67,492.40) scale(1.05,1)" font-size="9" text-anchor="start" fill="#000">6:16pm</text>
<polygon points="258.82,481.30 260.82,485.65 265.57,486.21 262.06,489.45 263.00,494.14 258.82,491.80 254.65,494.14 255.59,489.45 252.07,486.21 256.82,485.65" fill="#87682a"/>
<circle cx="258.82" cy="488.70" r="4.5" fill="#87682a"/>
<circle cx="258.62" cy="488.90" r="3.9" fill="#e23a22"/>
<circle cx="259.12" cy="488.50" r="3.3" fill="#e07e34"/>
<text transform="translate(266.12,492.40) scale(1.05,1)" font-size="9" text-anchor="start" fill="#000">6:15pm</text>
<polygon points="335.32,481.30 337.32,485.65 342.07,486.21 338.56,489.45 339.50,494.14 335.32,491.80 331.15,494.14 332.09,489.45 328.57,486.21 333.32,485.65" fill="#87682a"/>
<circle cx="335.32" cy="488.70" r="4.5" fill="#87682a"/>
<circle cx="335.12" cy="488.90" r="3.9" fill="#e23a22"/>
<circle cx="335.62" cy="488.50" r="3.3" fill="#e07e34"/>
<text transform="translate(342.62,492.40) scale(1.05,1)" font-size="9" text-anchor="start" fill="#000">6:15pm</text>
<polygon points="411.77,481.30 413.77,485.65 418.52,486.21 415.00,489.45 415.94,494.14 411.77,491.80 407.60,494.14 408.54,489.45 405.02,486.21 409.77,485.65" fill="#87682a"/>
<circle cx="411.77" cy="488.70" r="4.5" fill="#87682a"/>
<circle cx="411.57" cy="488.90" r="3.9" fill="#e23a22"/>
<circle cx="412.07" cy="488.50" r="3.3" fill="#e07e34"/>
<text transform="translate(419.07,492.40) scale(1.05,1)" font-size="9" text-anchor="start" fill="#000">6:14pm</text>
<polygon points="488.22,481.30 490.21,485.65 494.97,486.21 491.45,489.45 492.39,494.14 488.22,491.80 484.04,494.14 484.98,489.45 481.46,486.21 486.22,485.65" fill="#87682a"/>
<circle cx="488.22" cy="488.70" r="4.5" fill="#87682a"/>
<circle cx="488.02" cy="488.90" r="3.9" fill="#e23a22"/>
<circle cx="488.52" cy="488.50" r="3.3" fill="#e07e34"/>
<text transform="translate(495.52,492.40) scale(1.05,1)" font-size="9" text-anchor="start" fill="#000">6:13pm</text>
<polygon points="564.66,481.30 566.66,485.65 571.42,486.21 567.90,489.45 568.84,494.14 564.66,491.80 560.49,494.14 561.43,489.45 557.91,486.21 562.66,485.65" fill="#87682a"/>
<circle cx="564.66" cy="488.70" r="4.5" fill="#87682a"/>
<circle cx="564.46" cy="488.90" r="3.9" fill="#e23a22"/>
<circle cx="564.96" cy="488.50" r="3.3" fill="#e07e34"/>
<text transform="translate(571.96,492.40) scale(1.05,1)" font-size="9" text-anchor="start" fill="#000">6:12pm</text>
<polygon points="641.11,481.30 643.11,485.65 647.86,486.21 644.34,489.45 645.28,494.14 641.11,491.80 636.94,494.14 637.88,489.45 634.36,486.21 639.11,485.65" fill="#87682a"/>
<circle cx="641.11" cy="488.70" r="4.5" fill="#87682a"/>
<circle cx="640.91" cy="488.90" r="3.9" fill="#e23a22"/>
<circle cx="641.41" cy="488.50" r="3.3" fill="#e07e34"/>
<text transform="translate(648.41,492.40) scale(1.05,1)" font-size="9" text-anchor="start" fill="#000">6:11pm</text>
<circle cx="149.38" cy="501.9" r="4.85" fill="#ffffcc" stroke="#909090" stroke-width="0.9"/>
<text transform="translate(156.58,505.80) scale(1.05,1)" font-size="9" text-anchor="start" fill="#000">7:53am</text>
<circle cx="228.69" cy="501.9" r="4.85" fill="#ffffcc" stroke="#909090" stroke-width="0.9"/>
<text transform="translate(235.89,505.80) scale(1.05,1)" font-size="9" text-anchor="start" fill="#000">8:46am</text>
<circle cx="307.96" cy="501.9" r="4.85" fill="#ffffcc" stroke="#909090" stroke-width="0.9"/>
<text transform="translate(315.16,505.80) scale(1.05,1)" font-size="9" text-anchor="start" fill="#000">9:38am</text>
<circle cx="387.17" cy="501.9" r="4.85" fill="#ffffcc" stroke="#909090" stroke-width="0.9"/>
<text transform="translate(394.37,505.80) scale(1.05,1)" font-size="9" text-anchor="start" fill="#000">10:29am</text>
<circle cx="466.32" cy="501.9" r="4.85" fill="#ffffcc" stroke="#909090" stroke-width="0.9"/>
<text transform="translate(473.52,505.80) scale(1.05,1)" font-size="9" text-anchor="start" fill="#000">11:19am</text>
<circle cx="545.32" cy="501.9" r="4.85" fill="#ffffcc" stroke="#909090" stroke-width="0.9"/>
<text transform="translate(552.52,505.80) scale(1.05,1)" font-size="9" text-anchor="start" fill="#000">12:06pm</text>
<circle cx="624.26" cy="501.9" r="4.85" fill="#ffffcc" stroke="#909090" stroke-width="0.9"/>
<text transform="translate(631.46,505.80) scale(1.05,1)" font-size="9" text-anchor="start" fill="#000">12:52pm</text>
<circle cx="106.72" cy="515.6" r="4.85" fill="#c2c0b6" stroke="#777" stroke-width="0.9"/>
<text transform="translate(113.52,519.70) scale(1.05,1)" font-size="9" text-anchor="start" fill="#000">6:30pm</text>
<circle cx="185.13" cy="515.6" r="4.85" fill="#c2c0b6" stroke="#777" stroke-width="0.9"/>
<text transform="translate(191.93,519.70) scale(1.05,1)" font-size="9" text-anchor="start" fill="#000">7:06pm</text>
<circle cx="263.65" cy="515.6" r="4.85" fill="#c2c0b6" stroke="#777" stroke-width="0.9"/>
<text transform="translate(270.45,519.70) scale(1.05,1)" font-size="9" text-anchor="start" fill="#000">7:44pm</text>
<circle cx="342.33" cy="515.6" r="4.85" fill="#c2c0b6" stroke="#777" stroke-width="0.9"/>
<text transform="translate(349.13,519.70) scale(1.05,1)" font-size="9" text-anchor="start" fill="#000">8:25pm</text>
<circle cx="421.22" cy="515.6" r="4.85" fill="#c2c0b6" stroke="#777" stroke-width="0.9"/>
<text transform="translate(428.02,519.70) scale(1.05,1)" font-size="9" text-anchor="start" fill="#000">9:10pm</text>
<circle cx="500.27" cy="515.6" r="4.85" fill="#c2c0b6" stroke="#777" stroke-width="0.9"/>
<text transform="translate(507.07,519.70) scale(1.05,1)" font-size="9" text-anchor="start" fill="#000">9:58pm</text>
<circle cx="579.48" cy="515.6" r="4.85" fill="#c2c0b6" stroke="#777" stroke-width="0.9"/>
<text transform="translate(586.28,519.70) scale(1.05,1)" font-size="9" text-anchor="start" fill="#000">10:49pm</text>
<circle cx="658.90" cy="515.6" r="4.85" fill="#c2c0b6" stroke="#777" stroke-width="0.9"/>
<text transform="translate(665.70,519.70) scale(1.05,1)" font-size="9" text-anchor="start" fill="#000">11:44pm</text>
<text transform="translate(100.30,532.90) scale(1.04,1)" font-size="9" text-anchor="end" fill="#000">New Moon</text>
<text transform="translate(104.20,532.60) scale(1.0,1)" font-size="9" text-anchor="middle" fill="#000">|</text>
<text transform="translate(107.00,533.00) scale(1.05,1)" font-size="9" text-anchor="start" fill="#000">5:38pm</text>
</svg>
</body></html>
